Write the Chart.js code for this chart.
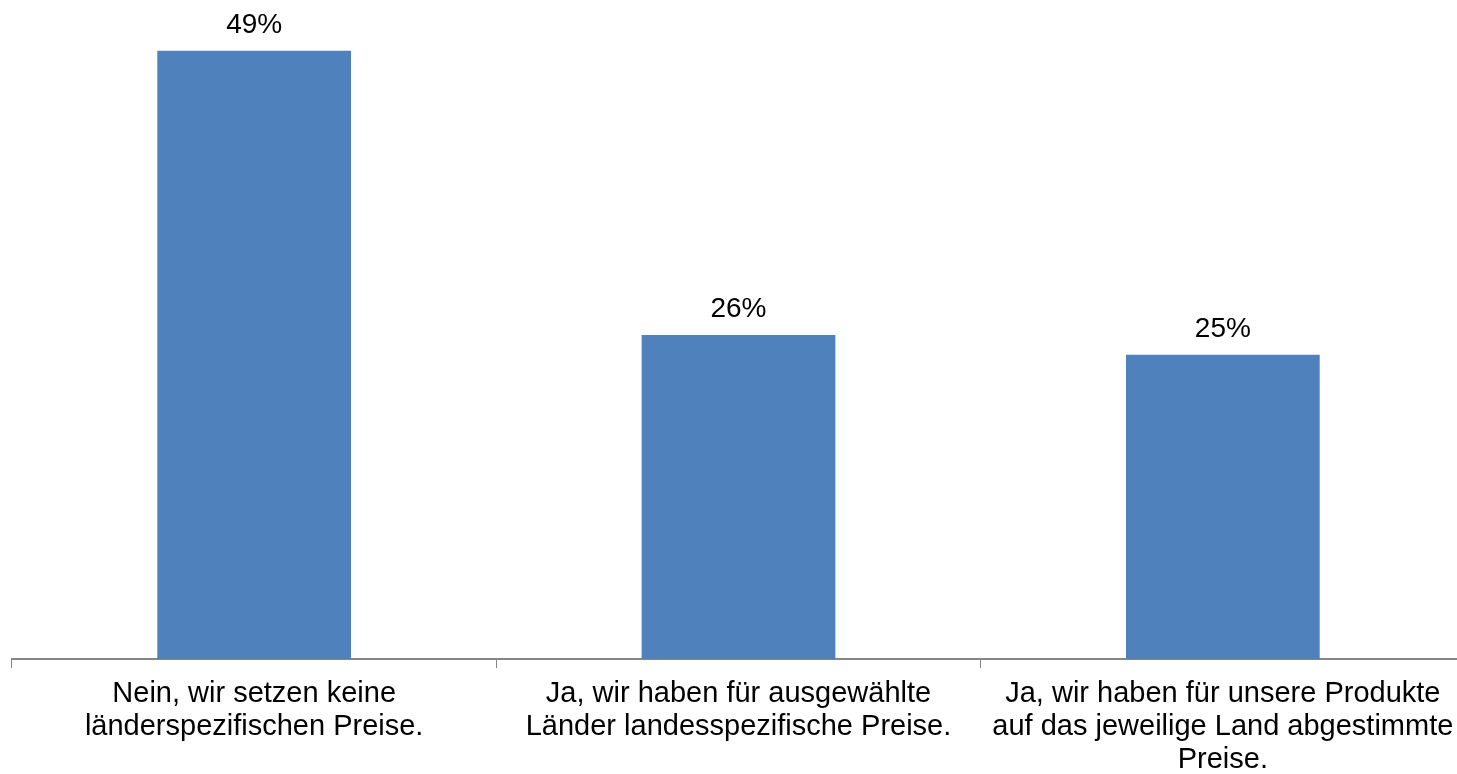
<!DOCTYPE html>
<html>
<head>
<meta charset="utf-8">
<script src="https://cdn.jsdelivr.net/npm/chart.js@4/dist/chart.umd.min.js"></script>
<style>
html,body{margin:0;padding:0;background:#fff;overflow:hidden;}
#wrap{position:relative;width:1470px;height:774px;}
</style>
</head>
<body>
<div id="wrap"><canvas id="c"></canvas></div>
<script>
const categories = [
  ["Nein, wir setzen keine", "länderspezifischen Preise."],
  ["Ja, wir haben für ausgewählte", "Länder landesspezifische Preise."],
  ["Ja, wir haben für unsere Produkte", "auf das jeweilige Land abgestimmte", "Preise."]
];
const values = [49, 26.1, 24.5];
const valueLabels = ["49%", "26%", "25%"];

const FONT = "'Liberation Sans', Arial, sans-serif";

const labelPlugin = {
  id: 'valueLabels',
  afterDatasetsDraw(chart) {
    const ctx = chart.ctx;
    const meta = chart.getDatasetMeta(0);
    ctx.save();
    ctx.font = "28px " + FONT;
    ctx.fillStyle = "#000";
    ctx.textAlign = "center";
    ctx.textBaseline = "alphabetic";
    meta.data.forEach((bar, i) => {
      ctx.fillText(valueLabels[i], bar.x, bar.y - 18);
    });
    ctx.restore();
  }
};

new Chart(document.getElementById('c'), {
  type: 'bar',
  data: {
    labels: categories,
    datasets: [{
      data: values,
      backgroundColor: '#4F81BD',
      borderWidth: 0,
      barPercentage: 0.4,
      categoryPercentage: 1.0
    }]
  },
  options: {
    responsive: true,
    maintainAspectRatio: false,
    animation: false,
    events: [],
    layout: { padding: { left: 12, right: 5, top: 1, bottom: 0 } },
    plugins: { legend: { display: false }, tooltip: { enabled: false } },
    scales: {
      x: {
        grid: { drawOnChartArea: false, drawTicks: true, tickLength: 9, color: '#868686', lineWidth: 1 },
        border: { display: true, color: '#868686', width: 2 },
        ticks: {
          color: '#000',
          font: { family: FONT, size: 29, lineHeight: 1.13 },
          padding: 10,
          maxRotation: 0,
          minRotation: 0,
          autoSkip: false
        },
        afterFit(scale) { scale.height = 115; }
      },
      y: {
        display: false,
        min: 0,
        max: 53
      }
    }
  },
  plugins: [labelPlugin]
});
</script>
</body>
</html>
